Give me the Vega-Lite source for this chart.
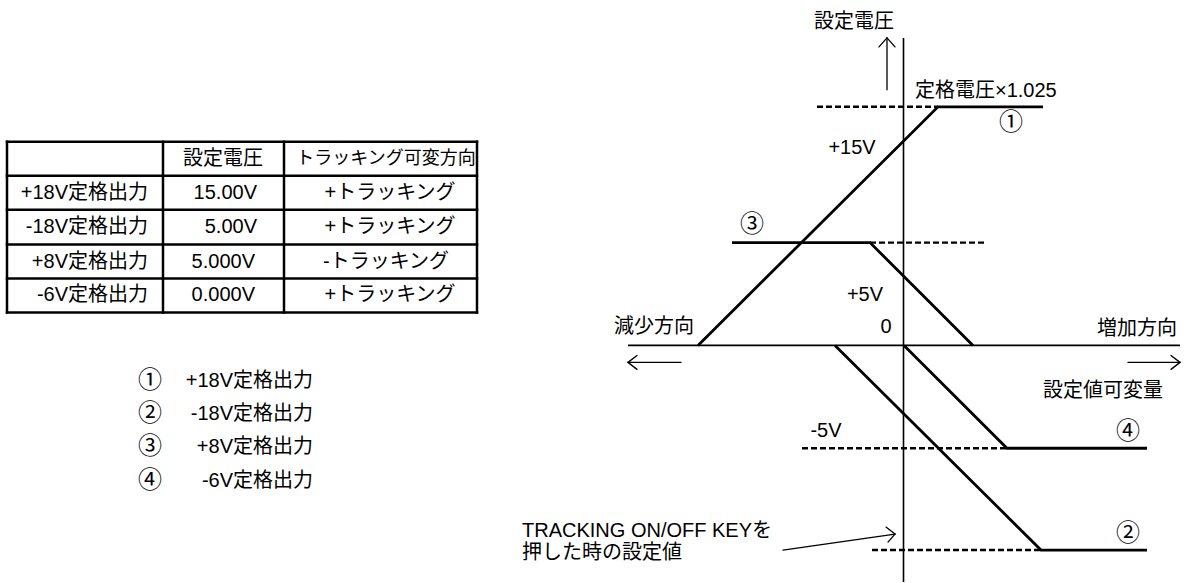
{
  "$schema": "https://vega.github.io/schema/vega-lite/v6.json",
  "width": 1187,
  "height": 583,
  "autosize": {"type": "fit", "contains": "padding"},
  "padding": 0,
  "background": "white",
  "config": {"view": {"stroke": null}},
  "datasets": {
    "segs": [
      {"s": "table", "x": 7, "y": 142, "x2": 477, "y2": 142},
      {"s": "table", "x": 7, "y": 176, "x2": 477, "y2": 176},
      {"s": "table", "x": 7, "y": 210, "x2": 477, "y2": 210},
      {"s": "table", "x": 7, "y": 245, "x2": 477, "y2": 245},
      {"s": "table", "x": 7, "y": 279, "x2": 477, "y2": 279},
      {"s": "table", "x": 7, "y": 313, "x2": 477, "y2": 313},
      {"s": "table", "x": 7, "y": 142, "x2": 7, "y2": 313},
      {"s": "table", "x": 163, "y": 142, "x2": 163, "y2": 313},
      {"s": "table", "x": 284, "y": 142, "x2": 284, "y2": 313},
      {"s": "table", "x": 477, "y": 142, "x2": 477, "y2": 313},
      {"s": "axis", "x": 903.5, "y": 38, "x2": 903.5, "y2": 583},
      {"s": "axis", "x": 628, "y": 346, "x2": 1180, "y2": 346},
      {"s": "thin", "x": 887, "y": 90, "x2": 887, "y2": 38},
      {"s": "thin", "x": 887, "y": 38, "x2": 879, "y2": 47},
      {"s": "thin", "x": 887, "y": 38, "x2": 895, "y2": 47},
      {"s": "thin", "x": 628, "y": 363, "x2": 681, "y2": 363},
      {"s": "thin", "x": 628, "y": 363, "x2": 637, "y2": 356},
      {"s": "thin", "x": 628, "y": 363, "x2": 637, "y2": 370},
      {"s": "thin", "x": 1128, "y": 363, "x2": 1180, "y2": 363},
      {"s": "thin", "x": 1180, "y": 363, "x2": 1171, "y2": 356},
      {"s": "thin", "x": 1180, "y": 363, "x2": 1171, "y2": 370},
      {"s": "thin", "x": 783, "y": 551, "x2": 895, "y2": 535},
      {"s": "thin", "x": 895, "y": 535, "x2": 886, "y2": 528},
      {"s": "thin", "x": 895, "y": 535, "x2": 888, "y2": 543},
      {"s": "dash", "x": 817, "y": 107, "x2": 938, "y2": 107},
      {"s": "dash", "x": 870, "y": 243, "x2": 987, "y2": 243},
      {"s": "dash", "x": 802, "y": 449, "x2": 1007, "y2": 449},
      {"s": "dash", "x": 872, "y": 551, "x2": 1041, "y2": 551}
    ],
    "paths": [
      {"id": "p1", "seq": 1, "x": 698, "y": 346},
      {"id": "p1", "seq": 2, "x": 938, "y": 107},
      {"id": "p1", "seq": 3, "x": 1043, "y": 107},
      {"id": "p3", "seq": 1, "x": 732, "y": 243},
      {"id": "p3", "seq": 2, "x": 870, "y": 243},
      {"id": "p3", "seq": 3, "x": 973, "y": 346},
      {"id": "p2", "seq": 1, "x": 835, "y": 346},
      {"id": "p2", "seq": 2, "x": 1041, "y": 551},
      {"id": "p2", "seq": 3, "x": 1147, "y": 551},
      {"id": "p4", "seq": 1, "x": 904, "y": 346},
      {"id": "p4", "seq": 2, "x": 1007, "y": 449},
      {"id": "p4", "seq": 3, "x": 1147, "y": 449}
    ],
    "labels": [
      {"r": "head", "x": 223, "y": 159, "t": "設定電圧"},
      {"r": "head", "x": 386, "y": 159, "t": "トラッキング可変方向"},
      {"r": "dir", "x": 390, "y": 193, "t": "+トラッキング"},
      {"r": "dir", "x": 390, "y": 227, "t": "+トラッキング"},
      {"r": "dir", "x": 386, "y": 262, "t": "-トラッキング"},
      {"r": "dir", "x": 390, "y": 296, "t": "+トラッキング"},
      {"r": "name", "x": 148, "y": 193, "t": "+18V定格出力"},
      {"r": "name", "x": 148, "y": 227, "t": "-18V定格出力"},
      {"r": "name", "x": 148, "y": 262, "t": "+8V定格出力"},
      {"r": "name", "x": 148, "y": 296, "t": "-6V定格出力"},
      {"r": "value", "x": 257, "y": 193, "t": "15.00V"},
      {"r": "value", "x": 257, "y": 227, "t": "5.00V"},
      {"r": "value", "x": 255, "y": 262, "t": "5.000V"},
      {"r": "value", "x": 255, "y": 296, "t": "0.000V"},
      {"r": "num", "x": 150, "y": 382, "t": "①"},
      {"r": "num", "x": 150, "y": 415, "t": "②"},
      {"r": "num", "x": 150, "y": 448, "t": "③"},
      {"r": "num", "x": 150, "y": 482, "t": "④"},
      {"r": "name", "x": 313, "y": 382, "t": "+18V定格出力"},
      {"r": "name", "x": 313, "y": 415, "t": "-18V定格出力"},
      {"r": "name", "x": 313, "y": 448, "t": "+8V定格出力"},
      {"r": "name", "x": 313, "y": 482, "t": "-6V定格出力"},
      {"r": "label", "x": 854, "y": 22, "t": "設定電圧"},
      {"r": "note", "x": 915, "y": 91, "t": "定格電圧×1.025"},
      {"r": "num", "x": 1011, "y": 123, "t": "①"},
      {"r": "label", "x": 852, "y": 148, "t": "+15V"},
      {"r": "num", "x": 752, "y": 225, "t": "③"},
      {"r": "label", "x": 865, "y": 296, "t": "+5V"},
      {"r": "label", "x": 886, "y": 328, "t": "0"},
      {"r": "label", "x": 654, "y": 328, "t": "減少方向"},
      {"r": "label", "x": 1137, "y": 330, "t": "増加方向"},
      {"r": "label", "x": 1103, "y": 392, "t": "設定値可変量"},
      {"r": "label", "x": 826, "y": 432, "t": "-5V"},
      {"r": "num", "x": 1128, "y": 433, "t": "④"},
      {"r": "num", "x": 1128, "y": 535, "t": "②"},
      {"r": "note", "x": 522, "y": 532, "t": "TRACKING ON/OFF KEYを"},
      {"r": "note", "x": 522, "y": 554, "t": "押した時の設定値"}
    ]
  },
  "layer": [
    {
      "data": {"name": "segs"},
      "transform": [{"filter": "datum.s === 'table'"}],
      "mark": {"type": "rule", "color": "black", "strokeWidth": 2.5, "strokeCap": "square"},
      "encoding": {
        "x": {"field": "x", "type": "quantitative", "scale": {"domain": [0, 1187], "nice": false, "zero": false}, "axis": null},
        "y": {"field": "y", "type": "quantitative", "scale": {"domain": [0, 583], "nice": false, "zero": false, "reverse": true}, "axis": null},
        "x2": {"field": "x2"},
        "y2": {"field": "y2"}
      }
    },
    {
      "data": {"name": "segs"},
      "transform": [{"filter": "datum.s === 'axis'"}],
      "mark": {"type": "rule", "color": "black", "strokeWidth": 1.6},
      "encoding": {
        "x": {"field": "x", "type": "quantitative", "scale": {"domain": [0, 1187], "nice": false, "zero": false}, "axis": null},
        "y": {"field": "y", "type": "quantitative", "scale": {"domain": [0, 583], "nice": false, "zero": false, "reverse": true}, "axis": null},
        "x2": {"field": "x2"},
        "y2": {"field": "y2"}
      }
    },
    {
      "data": {"name": "segs"},
      "transform": [{"filter": "datum.s === 'thin'"}],
      "mark": {"type": "rule", "color": "black", "strokeWidth": 1.3, "strokeCap": "round"},
      "encoding": {
        "x": {"field": "x", "type": "quantitative", "scale": {"domain": [0, 1187], "nice": false, "zero": false}, "axis": null},
        "y": {"field": "y", "type": "quantitative", "scale": {"domain": [0, 583], "nice": false, "zero": false, "reverse": true}, "axis": null},
        "x2": {"field": "x2"},
        "y2": {"field": "y2"}
      }
    },
    {
      "data": {"name": "segs"},
      "transform": [{"filter": "datum.s === 'dash'"}],
      "mark": {"type": "rule", "color": "black", "strokeWidth": 2.4, "strokeDash": [6, 3]},
      "encoding": {
        "x": {"field": "x", "type": "quantitative", "scale": {"domain": [0, 1187], "nice": false, "zero": false}, "axis": null},
        "y": {"field": "y", "type": "quantitative", "scale": {"domain": [0, 583], "nice": false, "zero": false, "reverse": true}, "axis": null},
        "x2": {"field": "x2"},
        "y2": {"field": "y2"}
      }
    },
    {
      "data": {"name": "paths"},
      "mark": {"type": "line", "color": "black", "strokeWidth": 2.8, "strokeJoin": "miter"},
      "encoding": {
        "x": {"field": "x", "type": "quantitative", "scale": {"domain": [0, 1187], "nice": false, "zero": false}, "axis": null},
        "y": {"field": "y", "type": "quantitative", "scale": {"domain": [0, 583], "nice": false, "zero": false, "reverse": true}, "axis": null},
        "detail": {"field": "id", "type": "nominal"},
        "order": {"field": "seq", "type": "quantitative"}
      }
    },
    {
      "data": {"name": "labels"},
      "transform": [{"filter": "(datum.r === 'head' || datum.r === 'dir' || datum.r === 'label') && datum.t !== 'トラッキング可変方向'"}],
      "mark": {"type": "text", "align": "center", "baseline": "middle", "font": "Liberation Sans, Noto Sans CJK JP", "fontSize": 20, "color": "black"},
      "encoding": {
        "x": {"field": "x", "type": "quantitative", "scale": {"domain": [0, 1187], "nice": false, "zero": false}, "axis": null},
        "y": {"field": "y", "type": "quantitative", "scale": {"domain": [0, 583], "nice": false, "zero": false, "reverse": true}, "axis": null},
        "text": {"field": "t", "type": "nominal"}
      }
    },
    {
      "data": {"name": "labels"},
      "transform": [{"filter": "datum.t === 'トラッキング可変方向'"}],
      "mark": {"type": "text", "align": "center", "baseline": "middle", "font": "Liberation Sans, Noto Sans CJK JP", "fontSize": 18, "color": "black"},
      "encoding": {
        "x": {"field": "x", "type": "quantitative", "scale": {"domain": [0, 1187], "nice": false, "zero": false}, "axis": null},
        "y": {"field": "y", "type": "quantitative", "scale": {"domain": [0, 583], "nice": false, "zero": false, "reverse": true}, "axis": null},
        "text": {"field": "t", "type": "nominal"}
      }
    },
    {
      "data": {"name": "labels"},
      "transform": [{"filter": "datum.r === 'num'"}],
      "mark": {"type": "text", "align": "center", "baseline": "middle", "font": "Noto Sans CJK JP", "fontSize": 24, "color": "black"},
      "encoding": {
        "x": {"field": "x", "type": "quantitative", "scale": {"domain": [0, 1187], "nice": false, "zero": false}, "axis": null},
        "y": {"field": "y", "type": "quantitative", "scale": {"domain": [0, 583], "nice": false, "zero": false, "reverse": true}, "axis": null},
        "text": {"field": "t", "type": "nominal"}
      }
    },
    {
      "data": {"name": "labels"},
      "transform": [{"filter": "datum.r === 'name' || datum.r === 'value'"}],
      "mark": {"type": "text", "align": "right", "baseline": "middle", "font": "Liberation Sans, Noto Sans CJK JP", "fontSize": 20, "color": "black"},
      "encoding": {
        "x": {"field": "x", "type": "quantitative", "scale": {"domain": [0, 1187], "nice": false, "zero": false}, "axis": null},
        "y": {"field": "y", "type": "quantitative", "scale": {"domain": [0, 583], "nice": false, "zero": false, "reverse": true}, "axis": null},
        "text": {"field": "t", "type": "nominal"}
      }
    },
    {
      "data": {"name": "labels"},
      "transform": [{"filter": "datum.r === 'note'"}],
      "mark": {"type": "text", "align": "left", "baseline": "middle", "font": "Liberation Sans, Noto Sans CJK JP", "fontSize": 20, "color": "black"},
      "encoding": {
        "x": {"field": "x", "type": "quantitative", "scale": {"domain": [0, 1187], "nice": false, "zero": false}, "axis": null},
        "y": {"field": "y", "type": "quantitative", "scale": {"domain": [0, 583], "nice": false, "zero": false, "reverse": true}, "axis": null},
        "text": {"field": "t", "type": "nominal"}
      }
    }
  ]
}
